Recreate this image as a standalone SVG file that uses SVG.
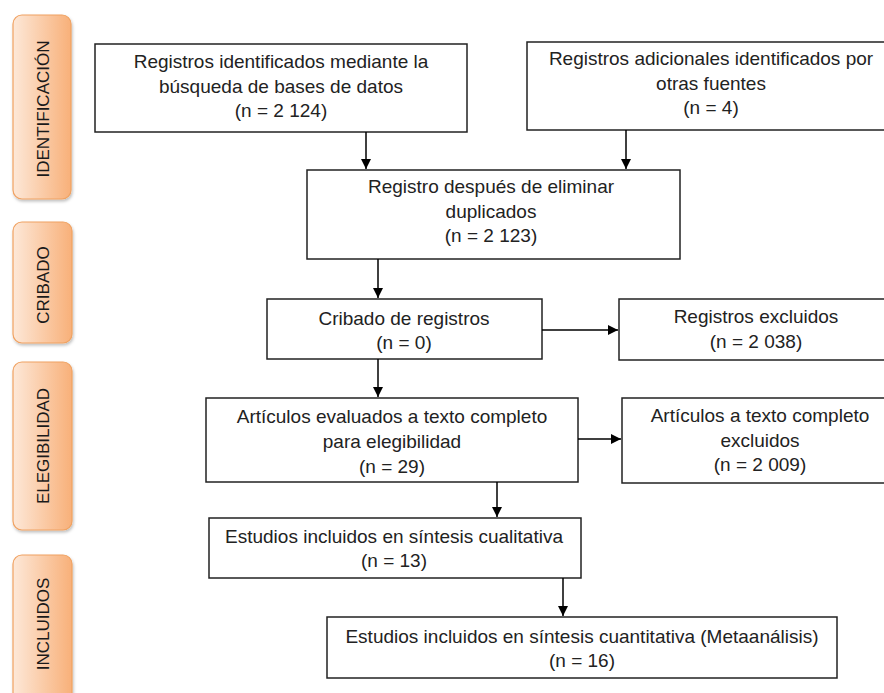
<svg xmlns="http://www.w3.org/2000/svg" width="884" height="693" viewBox="0 0 884 693">
<defs>
<linearGradient id="orange" x1="0" y1="0" x2="1" y2="0">
<stop offset="0" stop-color="#fde8d8"/>
<stop offset="1" stop-color="#f8b079"/>
</linearGradient>
<filter id="sh" x="-20%" y="-20%" width="140%" height="140%">
<feDropShadow dx="1" dy="2" stdDeviation="1.5" flood-color="#000" flood-opacity="0.25"/>
</filter>
<marker id="ah" markerWidth="10" markerHeight="10" refX="10" refY="5" orient="auto" markerUnits="userSpaceOnUse">
<path d="M0,0 L10,5 L0,10 Z" fill="#000"/>
</marker>
</defs>
<style>
.phase{fill:url(#orange);stroke:#f0a262;stroke-width:1.2;filter:url(#sh)}
.pt{font-family:"Liberation Sans",Arial,sans-serif;font-size:17px;fill:#1a1a1a;text-anchor:middle}
.box{fill:#fff;stroke:#222;stroke-width:1.5}
.t{font-family:"Liberation Sans",Arial,sans-serif;font-size:19px;fill:#222;text-anchor:middle}
.c{stroke:#000;stroke-width:1.5;fill:none;marker-end:url(#ah)}
</style>
<rect width="884" height="693" fill="#fff"/>

<g id="phase-identificacion">
<rect class="phase" x="13" y="15" width="58" height="184" rx="9"/>
<text class="pt" transform="translate(48.5,109) rotate(-90)">IDENTIFICACIÓN</text>
</g>
<g id="phase-cribado">
<rect class="phase" x="13" y="222" width="59" height="121" rx="9"/>
<text class="pt" transform="translate(49,285) rotate(-90)">CRIBADO</text>
</g>
<g id="phase-elegibilidad">
<rect class="phase" x="13" y="362" width="59" height="168" rx="9"/>
<text class="pt" transform="translate(49,446) rotate(-90)">ELEGIBILIDAD</text>
</g>
<g id="phase-incluidos">
<rect class="phase" x="13" y="555" width="59" height="150" rx="9"/>
<text class="pt" transform="translate(49,624) rotate(-90)">INCLUIDOS</text>
</g>

<g id="n-db">
<rect class="box" x="95" y="44" width="372" height="88"/>
<text class="t" x="281" y="68">Registros identificados mediante la</text>
<text class="t" x="281" y="93">búsqueda de bases de datos</text>
<text class="t" x="281" y="117">(n = 2 124)</text>
</g>
<g id="n-otras">
<rect class="box" x="527" y="42" width="368" height="88"/>
<text class="t" x="711" y="65">Registros adicionales identificados por</text>
<text class="t" x="711" y="90">otras fuentes</text>
<text class="t" x="711" y="114">(n = 4)</text>
</g>
<g id="n-dup">
<rect class="box" x="307" y="170" width="373" height="89"/>
<text class="t" x="491" y="193">Registro después de eliminar</text>
<text class="t" x="491" y="218">duplicados</text>
<text class="t" x="491" y="242">(n = 2 123)</text>
</g>
<g id="n-cribado">
<rect class="box" x="267" y="299" width="275" height="60"/>
<text class="t" x="404" y="325">Cribado de registros</text>
<text class="t" x="404" y="349">(n = 0)</text>
</g>
<g id="n-excl1">
<rect class="box" x="619" y="299" width="276" height="61"/>
<text class="t" x="756" y="323">Registros excluidos</text>
<text class="t" x="756" y="348">(n = 2 038)</text>
</g>
<g id="n-eval">
<rect class="box" x="206" y="398" width="372" height="84"/>
<text class="t" x="392" y="423">Artículos evaluados a texto completo</text>
<text class="t" x="392" y="448">para elegibilidad</text>
<text class="t" x="392" y="473">(n = 29)</text>
</g>
<g id="n-excl2">
<rect class="box" x="622" y="398" width="276" height="85"/>
<text class="t" x="760" y="422">Artículos a texto completo</text>
<text class="t" x="760" y="447">excluidos</text>
<text class="t" x="760" y="471">(n = 2 009)</text>
</g>
<g id="n-cual">
<rect class="box" x="209" y="518" width="372" height="60"/>
<text class="t" x="394" y="543">Estudios incluidos en síntesis cualitativa</text>
<text class="t" x="394" y="567">(n = 13)</text>
</g>
<g id="n-cuant">
<rect class="box" x="327" y="617" width="510" height="61"/>
<text class="t" x="582" y="643">Estudios incluidos en síntesis cuantitativa (Metaanálisis)</text>
<text class="t" x="582" y="667">(n = 16)</text>
</g>

<g id="connectors">
<line class="c" x1="366" y1="132" x2="366" y2="169"/>
<line class="c" x1="626" y1="130" x2="626" y2="169"/>
<line class="c" x1="378" y1="259" x2="378" y2="298"/>
<line class="c" x1="542" y1="330" x2="618" y2="330"/>
<line class="c" x1="378" y1="359" x2="378" y2="397"/>
<line class="c" x1="578" y1="439" x2="621" y2="439"/>
<line class="c" x1="497" y1="482" x2="497" y2="517"/>
<line class="c" x1="563" y1="578" x2="563" y2="616"/>
</g>
</svg>
